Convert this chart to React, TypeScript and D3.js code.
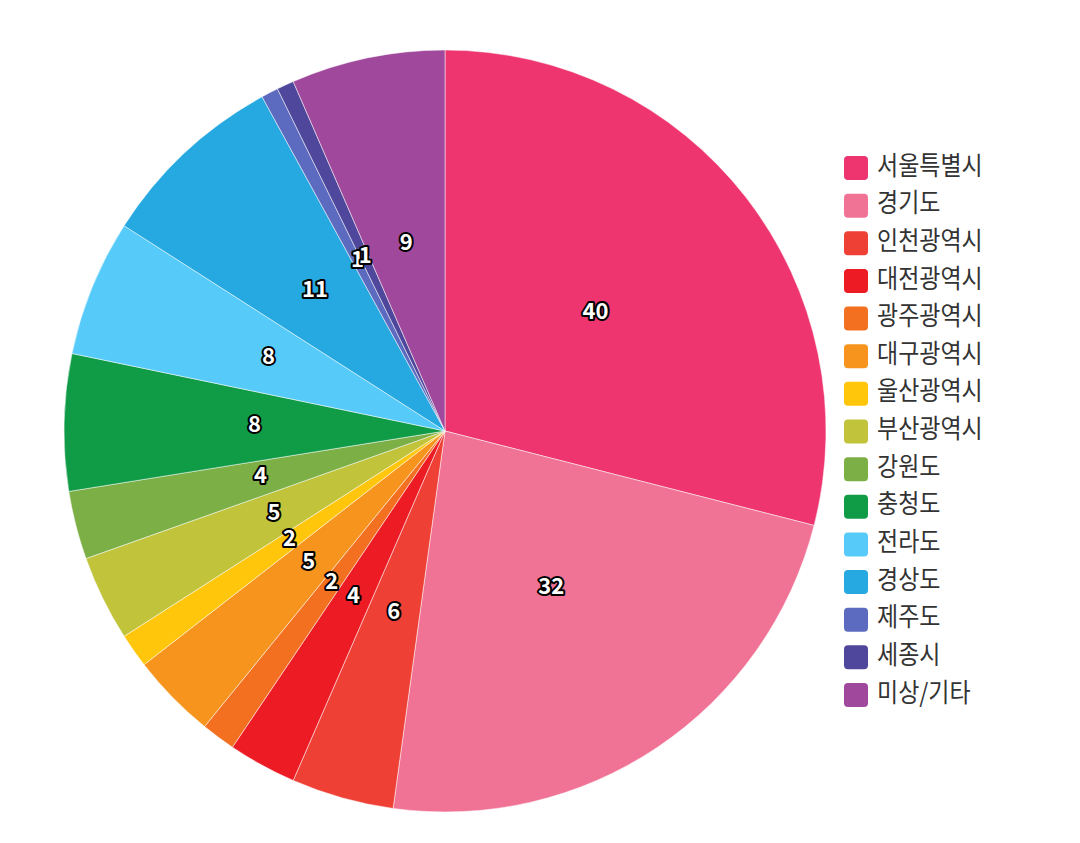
import React from "react";
import * as d3 from "d3";

const categories = ["서울특별시","경기도","인천광역시","대전광역시","광주광역시","대구광역시","울산광역시","부산광역시","강원도","충청도","전라도","경상도","제주도","세종시","미상/기타"];
const values = [40,32,6,4,2,5,2,5,4,8,8,11,1,1,9];
const colors = ["#EE3570","#F07396","#EF4036","#ED1C24","#F37021","#F7941E","#FFC60B","#C1C43A","#7CB046","#109B47","#56CBF9","#25A9E0","#5C6BC0","#4F479B","#A0489B"];

export default function App() {
  const cx = 445, cy = 431, r = 381;
  const pie = d3.pie<number>().sort(null).value(d => d)(values);
  const arc = d3.arc<d3.PieArcDatum<number>>().innerRadius(0).outerRadius(r);
  const labelArc = d3.arc<d3.PieArcDatum<number>>().innerRadius(r * 0.5).outerRadius(r * 0.5);
  const legendY = d3.scaleLinear().domain([0, categories.length - 1]).range([168, 695]);
  const font = "'Noto Sans CJK KR', 'Noto Sans', sans-serif";
  return (
    <svg width={1080} height={843} style={{ position: "absolute", left: 0, top: 0, background: "#fff" }}>
      <g transform={`translate(${cx},${cy})`}>
        {pie.map((p, i) => (
          <path key={i} d={arc(p) || ""} fill={colors[i]} stroke="#fff" strokeWidth={0.5} />
        ))}
        {pie.map((p, i) => {
          const [x, y] = labelArc.centroid(p);
          return (
            <text key={i} x={x} y={y - 5} textAnchor="middle" dominantBaseline="central"
              fontFamily={font} fontWeight="bold" fontSize={22} fill="#fff" stroke="#000" strokeWidth={4}
              strokeLinejoin="round" style={{ paintOrder: "stroke" }}>{values[i]}</text>
          );
        })}
      </g>
      <g>
        {categories.map((c, i) => (
          <g key={c} transform={`translate(844,${legendY(i)})`}>
            <rect x={0} y={-12} width={24} height={24} rx={4} fill={colors[i]} />
            <text x={0} y={0} dominantBaseline="central" fontFamily={font} fontSize={23} fill="#333"
              transform="translate(33,-4.5) scale(1,1.12)">{c}</text>
          </g>
        ))}
      </g>
    </svg>
  );
}
